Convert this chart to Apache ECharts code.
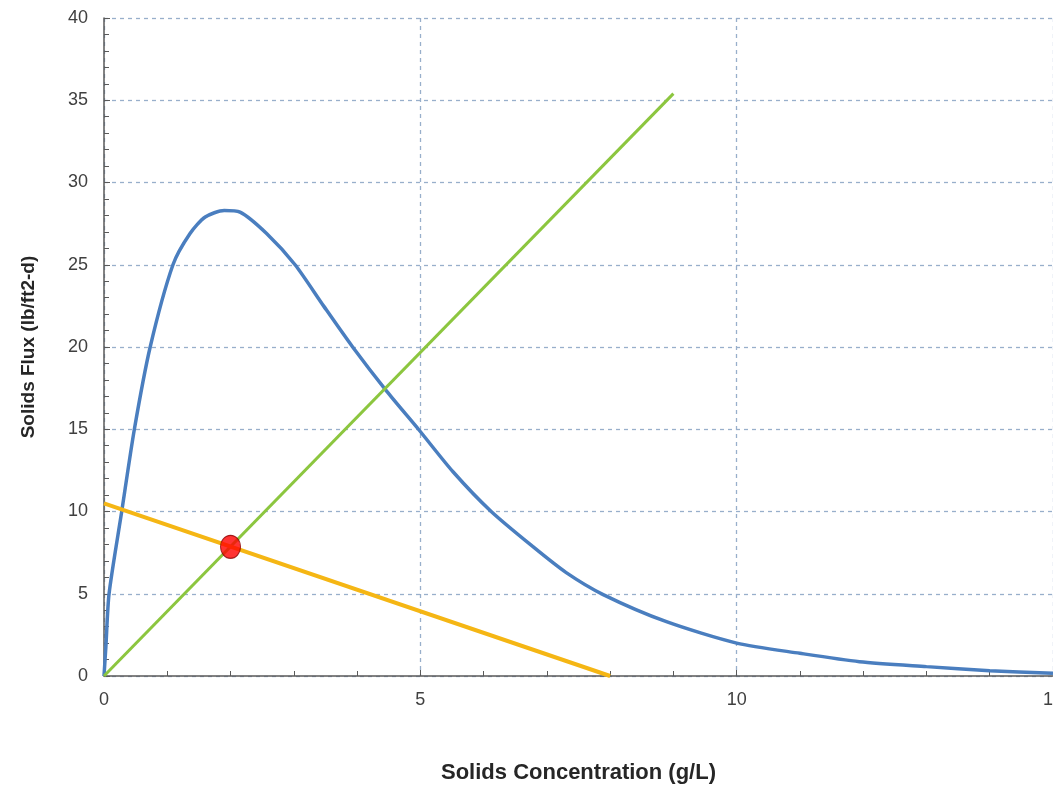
<!DOCTYPE html>
<html>
<head>
<meta charset="utf-8">
<title>Solids Flux vs Solids Concentration</title>
<script src="https://cdn.jsdelivr.net/npm/echarts@6/dist/echarts.min.js"></script>
<style>
  html, body { margin: 0; padding: 0; background: #ffffff; }
  #chart { width: 1053px; height: 789px; }
</style>
</head>
<body>
<div id="chart"></div>
<script>
// Gravity flux curve: solids concentration (g/L) vs solids flux (lb/ft2-d)
const fluxConc = [0, 0.03, 0.08, 0.28, 0.48, 0.73, 1.09, 1.36, 1.6, 1.9, 2.15, 2.57, 3.02, 3.47, 3.93, 4.47, 4.97, 5.52, 6.12, 6.78, 7.3, 7.89, 8.89, 10.0, 11.0, 11.94, 13.0, 14.0, 15.0];
const fluxVals = [0, 1.8, 5, 10, 15, 20, 25, 26.9, 27.9, 28.3, 28.2, 26.9, 25.0, 22.5, 20.0, 17.3, 15.0, 12.4, 10.0, 7.86, 6.3, 4.95, 3.3, 2.0, 1.38, 0.87, 0.57, 0.32, 0.16];

// Underflow operating line (through the origin)
const underflowConc = [0, 9];
const underflowFlux = [0, 35.4];

// Overflow / loading line
const loadingConc = [0, 8];
const loadingFlux = [10.5, 0];

// Operating point
const pointConc = [2.0];
const pointFlux = [7.85];

// Axis tick settings
const xTicks = { min: 0, max: 15, step: 5 };
const yTicks = { min: 0, max: 40, step: 5 };

const pairs = (xs, ys) => xs.map((x, i) => [x, ys[i]]);

const gridColor = '#98afcb';
const axisColor = '#5a5a5a';
const labelFont = "'Liberation Sans', Arial, sans-serif";
const titleFont = "'Liberation Sans', Arial, sans-serif";

const chart = echarts.init(document.getElementById('chart'), null, { renderer: 'canvas' });

chart.setOption({
  animation: false,
  backgroundColor: '#ffffff',
  grid: { left: 104, top: 18, right: 0, bottom: 113, containLabel: false, outerBoundsMode: 'none' },
  xAxis: {
    type: 'value',
    min: xTicks.min, max: xTicks.max, interval: xTicks.step,
    name: 'Solids Concentration (g/L)',
    nameLocation: 'middle',
    nameGap: 86,
    nameTextStyle: { fontFamily: titleFont, fontWeight: 'bold', fontSize: 22, color: '#262626' },
    axisLine: { show: true, lineStyle: { color: axisColor, width: 1.5 } },
    axisTick: { show: true, inside: true, length: 6, lineStyle: { color: axisColor } },
    minorTick: { show: true, splitNumber: 5, length: 5, lineStyle: { color: axisColor } },
    axisLabel: { fontFamily: labelFont, fontSize: 18, color: '#404040', margin: 15 },
    splitLine: { show: true, lineStyle: { color: gridColor, type: [4, 4], width: 1.3 } }
  },
  yAxis: {
    type: 'value',
    min: yTicks.min, max: yTicks.max, interval: yTicks.step,
    name: 'Solids Flux (lb/ft2-d)',
    nameLocation: 'middle',
    nameGap: 66,
    nameTextStyle: { fontFamily: titleFont, fontWeight: 'bold', fontSize: 19, color: '#262626' },
    axisLine: { show: true, lineStyle: { color: axisColor, width: 1.5 } },
    axisTick: { show: true, inside: true, length: 6, lineStyle: { color: axisColor } },
    minorTick: { show: true, splitNumber: 5, length: 5, lineStyle: { color: axisColor } },
    axisLabel: { fontFamily: labelFont, fontSize: 18, color: '#404040', margin: 16 },
    splitLine: { show: true, lineStyle: { color: gridColor, type: [4, 4], width: 1.3 } }
  },
  series: [
    {
      name: 'Gravity flux',
      type: 'line',
      data: pairs(fluxConc, fluxVals),
      smooth: 0.25,
      showSymbol: false,
      lineStyle: { color: '#4a7ebf', width: 3.5 },
      z: 2
    },
    {
      name: 'Underflow line',
      type: 'line',
      data: pairs(underflowConc, underflowFlux),
      showSymbol: false,
      lineStyle: { color: '#8cc63f', width: 3 },
      z: 3
    },
    {
      name: 'Loading line',
      type: 'line',
      data: pairs(loadingConc, loadingFlux),
      showSymbol: false,
      lineStyle: { color: '#f5b614', width: 4 },
      z: 4
    },
    {
      name: 'Operating point',
      type: 'scatter',
      data: pairs(pointConc, pointFlux),
      symbol: 'circle',
      symbolSize: [20, 23],
      itemStyle: { color: '#ff0000', borderColor: '#8b0000', borderWidth: 1 },
      z: 5
    }
  ]
});
</script>
</body>
</html>
